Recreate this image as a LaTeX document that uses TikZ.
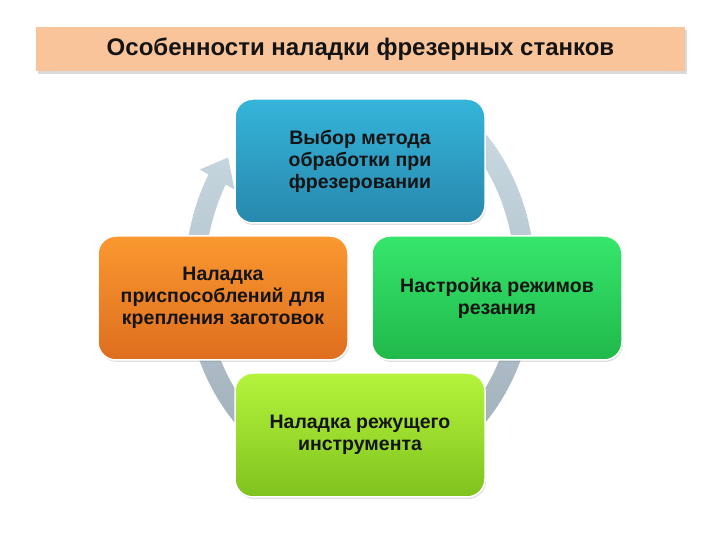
\documentclass[tikz,border=0pt]{standalone}
\usepackage{fontspec}
\setmainfont{Liberation Sans}
\usetikzlibrary{shadows}
\definecolor{barfill}{HTML}{F9C49A}
\definecolor{ringtop}{HTML}{CCDCE5}
\definecolor{ringbot}{HTML}{98A7B1}
\definecolor{bluetop}{HTML}{35B4DA}
\definecolor{bluebot}{HTML}{2888AD}
\definecolor{greentop}{HTML}{36E66C}
\definecolor{greenbot}{HTML}{20B84A}
\definecolor{limetop}{HTML}{B4F43C}
\definecolor{limebot}{HTML}{80C21E}
\definecolor{orangetop}{HTML}{FA9830}
\definecolor{orangebot}{HTML}{DE6E1E}
\definecolor{ink}{HTML}{141414}
\begin{document}
\begin{tikzpicture}[x=1pt,y=1pt,
	stage/.style={rounded corners=18pt,minimum width=250pt,minimum height=124pt,
		draw=white,line width=1.5pt,align=center,text=ink,
		font=\bfseries\fontsize{19.5}{22}\selectfont,
		drop shadow={shadow xshift=1pt,shadow yshift=-2pt,opacity=0.25}}]
\useasboundingbox (0,0) rectangle (720,540);
\node[fill=barfill,minimum width=649pt,minimum height=44pt,text=ink,
	font=\bfseries\fontsize{24}{28}\selectfont,
	drop shadow={shadow xshift=2pt,shadow yshift=-3pt,opacity=0.3}]
	(title) at (360.5,491) {Особенности наладки фрезерных станков};
\begin{scope}[shift={(360,262)}]
\shade[top color=ringtop,bottom color=ringbot]
	({175*cos(58)},{207*sin(58)})
	arc[start angle=58,end angle=-210,x radius=175,y radius=207]
	-- ({185*cos(150)},{217*sin(150)})
	-- ({165*cos(150)+11},{197*sin(150)+22})
	-- ({145*cos(150)},{177*sin(150)})
	-- ({155*cos(150)},{187*sin(150)})
	arc[start angle=-210,end angle=58,x radius=155,y radius=187]
	-- cycle;
\end{scope}
\node[stage,top color=bluetop,bottom color=bluebot] (method) at (360,379)
	{Выбор метода\\обработки при\\фрезеровании};
\node[stage,top color=greentop,bottom color=greenbot] (modes) at (497,242)
	{Настройка режимов\\резания};
\node[stage,top color=limetop,bottom color=limebot] (tool) at (360,105)
	{Наладка режущего\\инструмента};
\node[stage,top color=orangetop,bottom color=orangebot] (fixture) at (223,242)
	{Наладка\\приспособлений для\\крепления заготовок};
\end{tikzpicture}
\end{document}
